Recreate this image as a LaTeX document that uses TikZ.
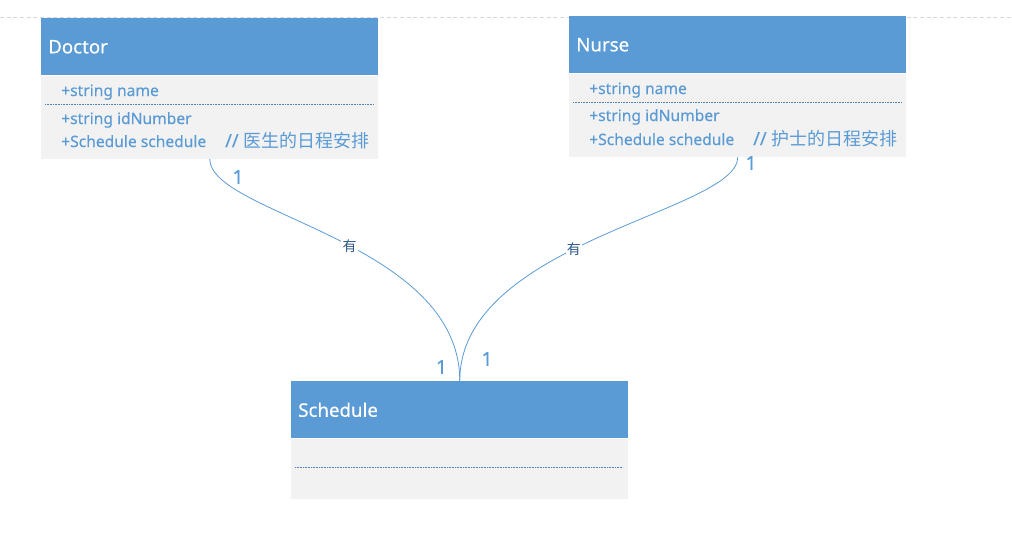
\documentclass[tikz,border=0pt]{standalone}
\usepackage{fontspec}
\setmainfont{Noto Sans}[UprightFeatures={FakeBold=0.3}]
\newfontfamily\cjk{Noto Sans CJK SC}
\definecolor{umlblue}{RGB}{91,155,213}
\definecolor{umlgray}{RGB}{242,242,242}
\definecolor{umlnavy}{RGB}{46,88,138}
\definecolor{pagegray}{RGB}{215,215,215}
\usetikzlibrary{positioning}

\tikzset{
  classhead/.style={fill=umlblue, text=white, anchor=north west, minimum width=252.75pt, minimum height=42.75pt, text width=242.25pt, inner xsep=5.25pt, align=left, font=\fontsize{14}{17}\selectfont},
  classbody/.style={fill=umlgray, anchor=north west, minimum width=252.75pt, inner sep=0pt},
  attr/.style={anchor=base west, text=umlblue, inner sep=0pt, font=\fontsize{11.7}{13}\selectfont},
  remark/.style={anchor=base west, text=umlblue, inner sep=0pt, font=\fontsize{13.5}{15}\selectfont},
  sepline/.style={umlblue!85!black, dash pattern=on 0.6pt off 0.6pt, line width=0.5pt},
  assoc/.style={umlblue, line width=0.6pt},
  role/.style={fill=white, text=umlnavy, inner sep=1pt, font=\cjk\fontsize{10.5}{12}\selectfont},
  mult/.style={text=umlblue, inner sep=0pt, font=\fontsize{14.5}{16}\selectfont},
}

\begin{document}
\begin{tikzpicture}[x=0.75pt, y=-0.75pt]
  \useasboundingbox (0,0) rectangle (1012,550);

  %% Page edge
  \draw[pagegray, dash pattern=on 3pt off 2pt, line width=0.4pt] (0,17) -- (1012,17);

  %% Doctor
  \node[classhead] (doctor-head) at (41,18) {Doctor};
  \node[classbody, minimum height=62.25pt] (doctor-body) at (doctor-head.south west) {};
  \node[attr] (doctor-name) at (61,96) {+string name};
  \draw[sepline] (45,104.3) -- (374,104.3);
  \node[attr] (doctor-id) at (61,124) {+string idNumber};
  \node[attr] (doctor-sched) at (61,147) {+Schedule schedule};
  \node[remark] (doctor-note) at (225,147) {// {\cjk 医生的日程安排}};

  %% Nurse
  \node[classhead] (nurse-head) at (569,16) {Nurse};
  \node[classbody, minimum height=62.25pt] (nurse-body) at (nurse-head.south west) {};
  \node[attr] (nurse-name) at (589,94) {+string name};
  \draw[sepline] (573,102.3) -- (902,102.3);
  \node[attr] (nurse-id) at (589,121) {+string idNumber};
  \node[attr] (nurse-sched) at (589,145) {+Schedule schedule};
  \node[remark] (nurse-note) at (753,145) {// {\cjk 护士的日程安排}};

  %% Schedule
  \node[classhead] (sched-head) at (291,381) {Schedule};
  \node[classbody, minimum height=45pt] (sched-body) at (sched-head.south west) {};
  \draw[sepline] (295,467) -- (623,467);

  %% Associations
  \draw[assoc] (doctor-body.south) .. controls +(0,55) and +(0,-140) .. (sched-head.north)
    node[role, pos=0.54] (doctor-has) {有};
  \draw[assoc] (nurse-body.south) .. controls +(0,55) and +(0,-140) .. (sched-head.north)
    node[role, pos=0.56] (nurse-has) {有};

  %% Multiplicities
  \node[mult] (doctor-m) at (238,177) {1};
  \node[mult] (sched-m1) at (441.5,367) {1};
  \node[mult] (nurse-m) at (751,163) {1};
  \node[mult] (sched-m2) at (487,359) {1};
\end{tikzpicture}
\end{document}
